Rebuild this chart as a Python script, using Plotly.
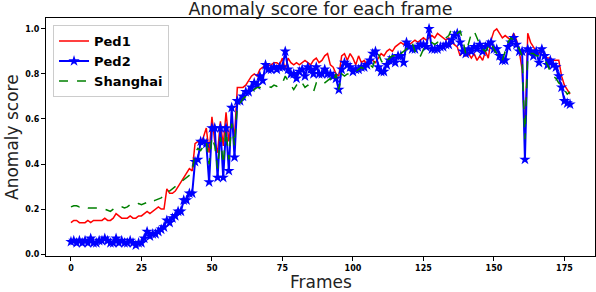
import plotly.graph_objects as go

frames = list(range(178))

ped1 = [
    0.14, 0.15, 0.15, 0.14, 0.14, 0.14, 0.15, 0.14, 0.15, 0.15,
    0.15, 0.15, 0.16, 0.15, 0.15, 0.16, 0.18, 0.17, 0.16, 0.16,
    0.16, 0.17, 0.16, 0.16, 0.17, 0.17, 0.18, 0.19, 0.18, 0.19,
    0.20, 0.21, 0.20, 0.20, 0.29, 0.27, 0.27, 0.28, 0.30, 0.32,
    0.34, 0.36, 0.38, 0.37, 0.49, 0.50, 0.49, 0.52, 0.56, 0.45,
    0.61, 0.50, 0.45, 0.59, 0.48, 0.63, 0.50, 0.60, 0.52, 0.74,
    0.74, 0.74, 0.75, 0.77, 0.79, 0.80, 0.79, 0.82, 0.83, 0.83,
    0.84, 0.84, 0.85, 0.85, 0.84, 0.87, 0.82, 0.87, 0.85, 0.84,
    0.85, 0.84, 0.85, 0.86, 0.85, 0.84, 0.86, 0.87, 0.85, 0.86,
    0.88, 0.89, 0.84, 0.83, 0.80, 0.79, 0.88, 0.89, 0.86, 0.89,
    0.87, 0.84, 0.88, 0.85, 0.86, 0.84, 0.87, 0.86, 0.85, 0.87,
    0.89, 0.88, 0.90, 0.91, 0.90, 0.92, 0.93, 0.94, 0.93, 0.94,
    0.93, 0.94, 0.95, 0.94, 0.95, 0.96, 0.95, 0.96, 0.97, 0.96,
    0.98, 0.97, 0.96, 0.95, 0.96, 0.94, 0.93, 0.92, 0.88, 0.90,
    0.88, 0.89, 0.87, 0.89, 0.86, 0.88, 0.86, 0.90, 0.87, 0.95,
    0.99, 1.00, 0.98, 0.96, 0.97, 0.96, 0.95, 0.98, 0.95, 0.90,
    0.82, 0.52, 0.98, 0.94, 0.92, 0.90, 0.89, 0.91, 0.88, 0.87,
    0.87, 0.86, 0.86, 0.86, 0.79, 0.75, 0.73, 0.71,
]

ped2 = [
    0.055, 0.06, 0.05, 0.06, 0.05, 0.06, 0.05, 0.07, 0.05, 0.05,
    0.06, 0.06, 0.07, 0.06, 0.05, 0.05, 0.07, 0.05, 0.06, 0.05,
    0.05, 0.06, 0.05, 0.04, 0.05, 0.05, 0.07, 0.10, 0.08, 0.09,
    0.09, 0.10, 0.11, 0.12, 0.15, 0.14, 0.16, 0.17, 0.19, 0.19,
    0.24, 0.24, 0.27, 0.27, 0.41, 0.42, 0.50, 0.50, 0.49, 0.32,
    0.56, 0.56, 0.34, 0.56, 0.34, 0.56, 0.37, 0.65, 0.43, 0.68,
    0.68, 0.70, 0.72, 0.72, 0.74, 0.76, 0.75, 0.79, 0.77, 0.84,
    0.82, 0.82, 0.83, 0.82, 0.83, 0.83, 0.90, 0.82, 0.80, 0.80,
    0.78, 0.81, 0.82, 0.79, 0.83, 0.82, 0.80, 0.83, 0.80, 0.80,
    0.82, 0.80, 0.80, 0.79, 0.78, 0.73, 0.82, 0.85, 0.84, 0.83,
    0.81, 0.82, 0.82, 0.83, 0.83, 0.84, 0.86, 0.89, 0.90, 0.83,
    0.81, 0.81, 0.84, 0.86, 0.87, 0.85, 0.88, 0.88, 0.85, 0.94,
    0.92, 0.91, 0.91, 0.92, 0.93, 0.93, 0.92, 1.00, 0.91, 0.91,
    0.91, 0.92, 0.92, 0.93, 0.93, 0.95, 0.97, 0.98, 0.94, 0.90,
    0.89, 0.91, 0.90, 0.92, 0.91, 0.93, 0.90, 0.92, 0.93, 0.94,
    0.91, 0.91, 0.88, 0.86, 0.86, 0.92, 0.94, 0.96, 0.93, 0.90,
    0.90, 0.42, 0.91, 0.90, 0.88, 0.90, 0.85, 0.91, 0.88, 0.84,
    0.86, 0.84, 0.83, 0.79, 0.74, 0.68, 0.67, 0.665,
]

shanghai = [
    0.21, 0.215, 0.215, 0.21, 0.215, 0.21, 0.205, 0.205, 0.205, 0.205,
    0.205, 0.20, 0.20, 0.195, 0.19, 0.20, 0.21, 0.21, 0.21, 0.205,
    0.21, 0.22, 0.215, 0.22, 0.225, 0.22, 0.225, 0.23, 0.225, 0.235,
    0.24, 0.245, 0.25, 0.26, 0.28, 0.28, 0.29, 0.30, 0.31, 0.32,
    0.33, 0.34, 0.35, 0.36, 0.45, 0.47, 0.46, 0.48, 0.50, 0.40,
    0.52, 0.48, 0.38, 0.52, 0.40, 0.55, 0.42, 0.58, 0.48, 0.66,
    0.67, 0.69, 0.70, 0.71, 0.72, 0.73, 0.74, 0.74, 0.74, 0.745,
    0.745, 0.74, 0.75, 0.745, 0.76, 0.76, 0.79, 0.77, 0.75, 0.73,
    0.75, 0.77, 0.76, 0.74, 0.75, 0.74, 0.72, 0.76, 0.75, 0.75,
    0.76, 0.77, 0.78, 0.76, 0.80, 0.73, 0.80, 0.79, 0.80, 0.80,
    0.81, 0.81, 0.82, 0.83, 0.82, 0.83, 0.84, 0.83, 0.87, 0.89,
    0.86, 0.84, 0.86, 0.87, 0.88, 0.88, 0.87, 0.89, 0.90, 0.91,
    0.93, 0.94, 0.90, 0.87, 0.88, 0.91, 0.92, 0.93, 0.94, 0.93,
    0.94, 0.94, 0.95, 0.96, 0.97, 1.00, 0.99, 0.98, 0.99, 0.95,
    0.89, 0.94, 0.98, 0.99, 0.96, 0.93, 0.91, 0.90, 0.92, 0.94,
    0.91, 0.89, 0.87, 0.86, 0.90, 0.94, 0.96, 0.95, 0.93, 0.91,
    0.88, 0.51, 0.88, 0.89, 0.89, 0.88, 0.88, 0.87, 0.86, 0.84,
    0.81, 0.79, 0.78, 0.76, 0.75, 0.73, 0.71, 0.72,
]

x_ticks = [0, 25, 50, 75, 100, 125, 150, 175]
y_ticks = [0.0, 0.2, 0.4, 0.6, 0.8, 1.0]

FONT = "DejaVu Sans"
TXT = "#222222"

fig = go.Figure()
fig.add_trace(go.Scatter(x=frames, y=ped1, mode="lines", name="Ped1",
                         line=dict(color="#ff0000", width=1.5)))
fig.add_trace(go.Scatter(x=frames, y=ped2, mode="lines+markers", name="Ped2",
                         line=dict(color="#0000ff", width=2),
                         marker=dict(symbol="star", size=8.5, color="#0000ff",
                                     line=dict(width=0))))
fig.add_trace(go.Scatter(x=frames, y=shanghai, mode="lines", name="Shanghai",
                         line=dict(color="#008000", width=1.5, dash="dash")))

axis_common = dict(
    showgrid=False, zeroline=False, showline=True, linecolor="black",
    linewidth=1, mirror=True, ticks="outside", ticklen=4, tickwidth=1,
    tickcolor="black", automargin=False,
    tickfont=dict(family=FONT, size=8, color="black", weight="bold"),
)

fig.update_layout(
    width=596, height=292,
    margin=dict(l=46, r=1, t=18, b=36),
    paper_bgcolor="white", plot_bgcolor="white",
    title=dict(text="Anomaly score for each frame", x=0.5, xref="paper",
               y=1, yref="paper", yanchor="bottom", pad=dict(b=3),
               automargin=False,
               font=dict(family=FONT, size=17.5, color=TXT)),
    xaxis=dict(range=[-8.85, 185.85], tickvals=x_ticks,
               ticktext=[str(t) for t in x_ticks], **axis_common),
    yaxis=dict(range=[-0.008, 1.048], tickvals=y_ticks,
               ticktext=[f"{t:.1f}" for t in y_ticks], **axis_common),
    legend=dict(x=0.0128, y=0.97, xanchor="left", yanchor="top",
                bgcolor="rgba(255,255,255,0.9)", bordercolor="#cccccc",
                borderwidth=1,
                font=dict(family=FONT, size=13, color="black", weight="bold"),
                itemwidth=30, tracegroupgap=0),
    showlegend=True,
    annotations=[
        dict(text="Frames", xref="paper", yref="paper", x=0.5, y=-0.151,
             xanchor="center", yanchor="bottom", showarrow=False,
             height=19, valign="middle", borderpad=0,
             font=dict(family=FONT, size=17, color=TXT)),
        dict(text="Anomaly score", xref="paper", yref="paper", x=-0.062,
             y=0.5, xanchor="center", yanchor="middle", textangle=-90,
             showarrow=False, font=dict(family=FONT, size=17, color=TXT)),
    ],
)

fig.write_html("out.html",
               config={"displayModeBar": False},
               post_script="document.body.style.margin='0';"
                           "document.body.style.padding='0';")
